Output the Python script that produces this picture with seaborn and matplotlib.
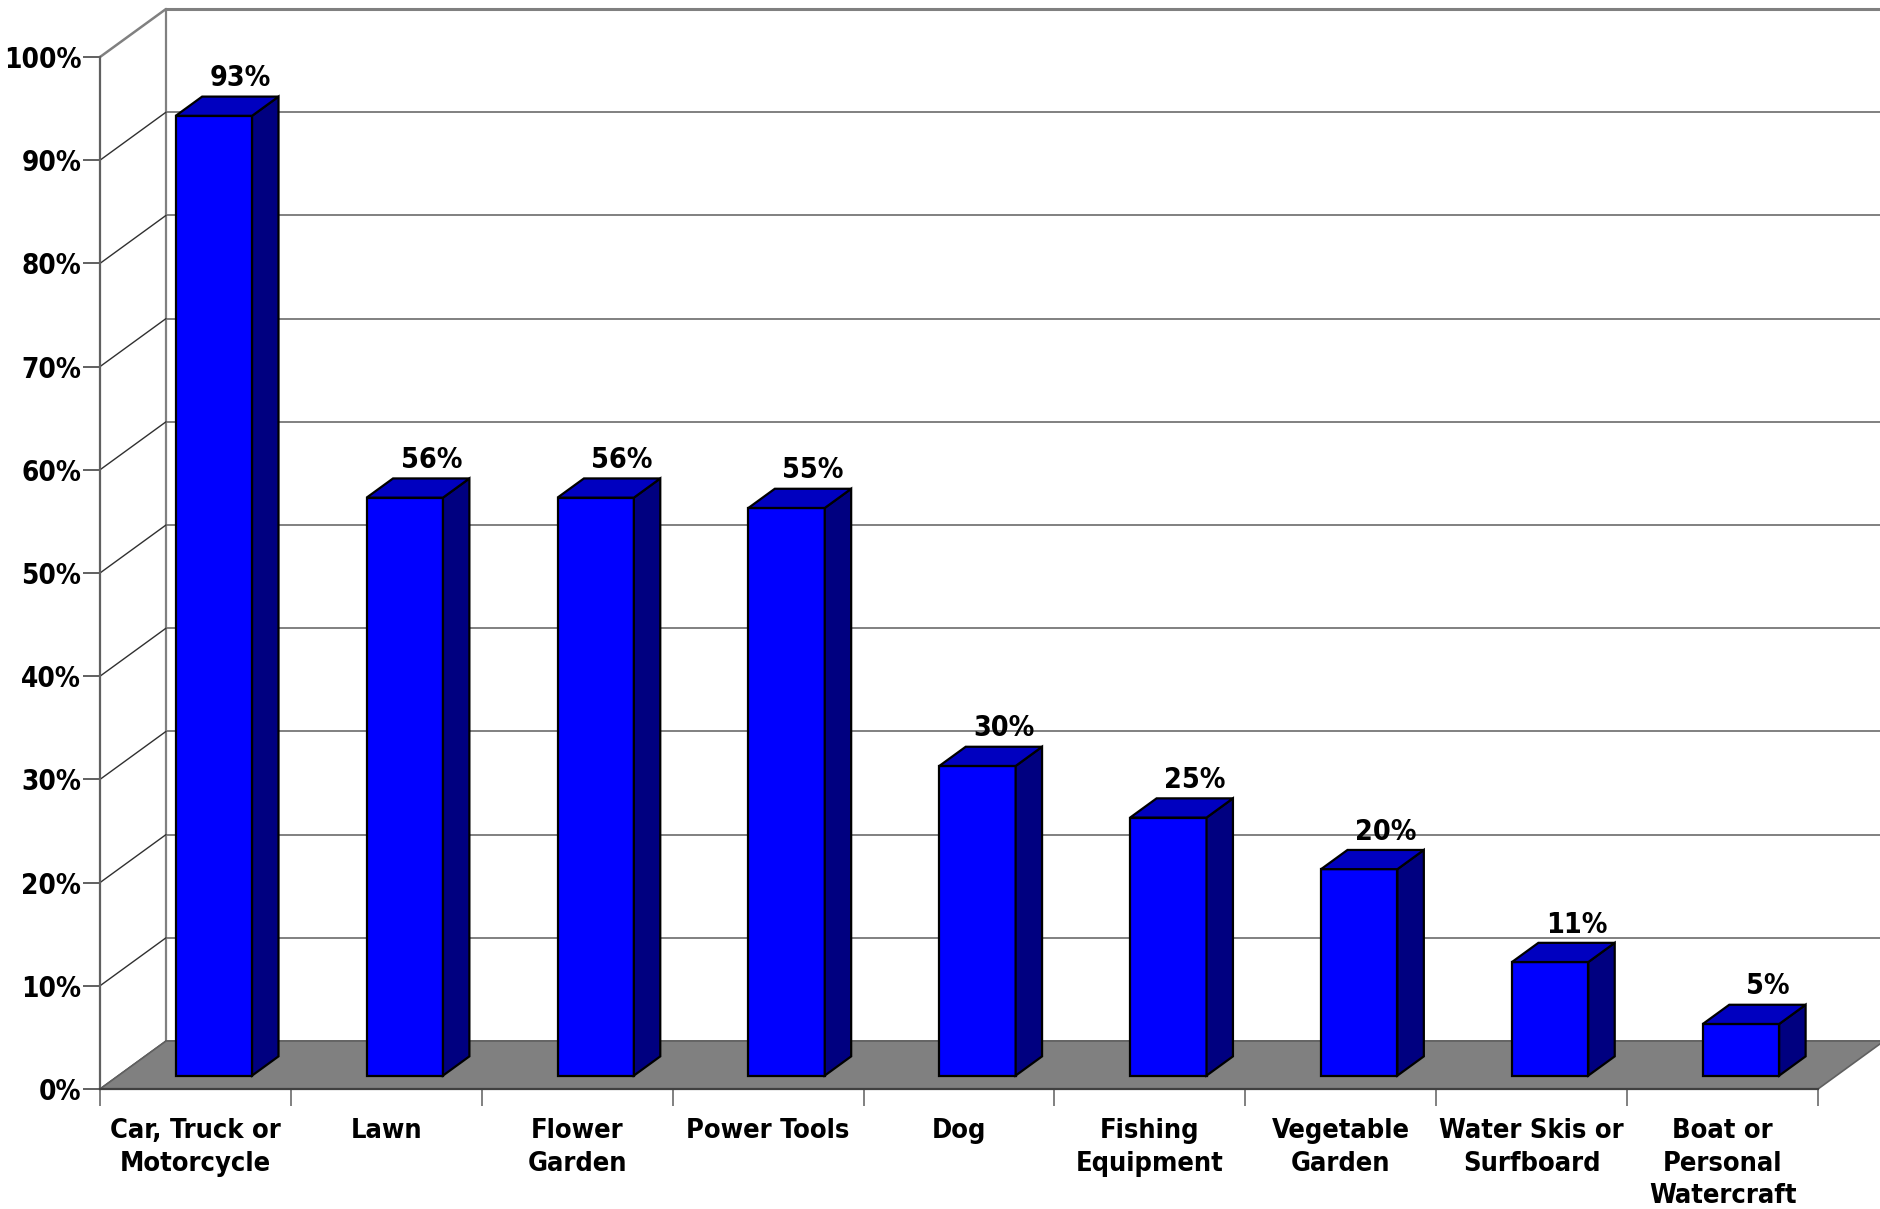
import numpy as np
import pandas as pd
import matplotlib
matplotlib.use("Agg")
import matplotlib.pyplot as plt
import seaborn as sns
from matplotlib.patches import Polygon

# Share of respondents owning each item
categories = [
    "Car, Truck or\nMotorcycle",
    "Lawn",
    "Flower\nGarden",
    "Power Tools",
    "Dog",
    "Fishing\nEquipment",
    "Vegetable\nGarden",
    "Water Skis or\nSurfboard",
    "Boat or\nPersonal\nWatercraft",
]
percent_owned = [93, 56, 56, 55, 30, 25, 20, 11, 5]
y_ticks = [0, 10, 20, 30, 40, 50, 60, 70, 80, 90, 100]
y_tick_labels = [f"{v}%" for v in y_ticks]

sns.set_theme(style="white")
plt.rcParams["font.family"] = ["DejaVu Sans"]
plt.rcParams["font.stretch"] = "condensed"
plt.rcParams["font.weight"] = "bold"
plt.rcParams["text.color"] = "black"
plt.rcParams["xtick.color"] = "black"
plt.rcParams["ytick.color"] = "black"

FS_CAT = 19.5
FS_Y = 20
FS_VAL = 20.5
W, H = 1881, 1209
fig = plt.figure(figsize=(W / 100, H / 100), dpi=100)
fig.patch.set_facecolor("white")

# Front plane of the 3-D box (pixels): x 100..1818, y(0%)=1089, y(100%)=57
ax = fig.add_axes([100 / W, (H - 1089) / H, 1718 / W, 1032 / H])
ax.set_facecolor("none")

n = len(categories)
# depth vector of the box expressed in data units
DX = 66 / 1718 * n
DY = 48 / 1032 * 100
F0, F1 = 0.28, 0.68  # front / back depth fraction of bars

df = pd.DataFrame({"item": categories, "pct": percent_owned})
sns.barplot(data=df, x="item", y="pct", order=categories, color="#0000FF",
            saturation=1, width=0.4, edgecolor="black", linewidth=1.6, ax=ax)
bars = list(ax.patches)

ax.set_xlim(-0.5, n - 0.5)
ax.set_ylim(0, 100)

# floor
floor = Polygon([(-0.5, 0), (n - 0.5, 0), (n - 0.5 + DX, DY), (-0.5 + DX, DY)],
                closed=True, facecolor="#808080", edgecolor="#606060",
                linewidth=1.2, clip_on=False, zorder=1)
ax.add_patch(floor)

# back wall grid lines and side wall diagonals
for v in y_ticks:
    ax.plot([-0.5 + DX, n - 0.5 + DX + 0.2], [v + DY, v + DY],
            color="#808080", lw=1.4 if v < 100 else 2.2, clip_on=False, zorder=0.5)
    ax.plot([-0.5, -0.5 + DX], [v, v + DY],
            color="#303030" if v < 100 else "#808080",
            lw=1.0 if v < 100 else 1.8, clip_on=False, zorder=0.6)
ax.plot([-0.5 + DX, -0.5 + DX], [DY, 100 + DY], color="#808080", lw=1.6,
        clip_on=False, zorder=0.5)

# extrude bars: shift front faces into depth, add top and side faces
ddx = (F1 - F0) * DX
ddy = (F1 - F0) * DY
for p, v in zip(bars, percent_owned):
    p.set_x(p.get_x() + F0 * DX)
    p.set_y(p.get_y() + F0 * DY)
    p.set_zorder(3)
    x0 = p.get_x()
    x1 = x0 + p.get_width()
    yb = p.get_y()
    yt = yb + p.get_height()
    top = Polygon([(x0, yt), (x1, yt), (x1 + ddx, yt + ddy), (x0 + ddx, yt + ddy)],
                  closed=True, facecolor="#0000C0", edgecolor="black",
                  linewidth=1.6, zorder=3, clip_on=False)
    side = Polygon([(x1, yb), (x1 + ddx, yb + ddy), (x1 + ddx, yt + ddy), (x1, yt)],
                   closed=True, facecolor="#000080", edgecolor="black",
                   linewidth=1.6, zorder=3, clip_on=False)
    ax.add_patch(side)
    ax.add_patch(top)
    cx = (x0 + x1) / 2 + ddx
    ax.text(cx, yt + ddy + 1.0, f"{v}%", ha="center", va="baseline",
            fontsize=FS_VAL, fontweight="bold", color="black", zorder=4,
            clip_on=False)

# axes, ticks and labels
for s in ["top", "right"]:
    ax.spines[s].set_visible(False)
ax.spines["left"].set_color("#606060")
ax.spines["left"].set_linewidth(1.6)
ax.spines["bottom"].set_color("#404040")
ax.spines["bottom"].set_linewidth(1.6)
ax.spines["left"].set_zorder(2)
ax.spines["bottom"].set_zorder(2)

ax.set_yticks(y_ticks)
ax.set_yticklabels(y_tick_labels)
ax.tick_params(axis="y", which="major", direction="out", length=12, width=1.4,
               color="#606060", labelcolor="black", pad=1.5, labelsize=FS_Y,
               left=True)

ax.set_xticks(np.arange(-0.5, n, 1.0))
ax.set_xticklabels([""] * (n + 1))
ax.tick_params(axis="x", which="major", direction="out", length=12, width=1.4,
               color="#808080", bottom=True)
ax.set_xticks(np.arange(n), minor=True)
ax.set_xticklabels(categories, minor=True, linespacing=1.33)
ax.tick_params(axis="x", which="minor", length=0, pad=21, labelsize=FS_CAT,
               labelcolor="black")
for lbl in ax.get_xticklabels(minor=True) + ax.get_yticklabels():
    lbl.set_fontweight("bold")

ax.set_xlabel("")
ax.set_ylabel("")
ax.grid(False)

fig.savefig("out.png", dpi=100, facecolor="white")
